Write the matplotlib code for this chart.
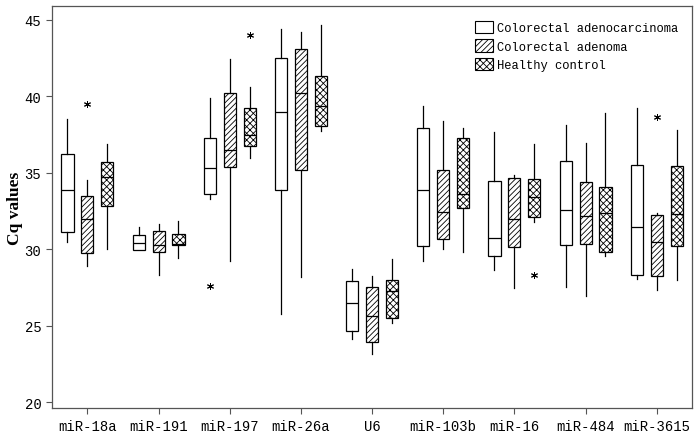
import matplotlib.pyplot as plt
from matplotlib.patches import Patch

# категории и группы
categories = ["miR-18a", "miR-191", "miR-197", "miR-26a", "U6",
              "miR-103b", "miR-16", "miR-484", "miR-3615"]
groups = ["Colorectal adenocarcinoma", "Colorectal adenoma", "Healthy control"]
hatches = ["", "//////", "xxxxx"]

# (нижний ус, Q1, медиана, Q3, верхний ус) для каждой группы
adenocarcinoma = [
    (30.45, 31.1, 33.85, 36.25, 38.5),
    (29.97, 29.97, 30.4, 30.93, 31.47),
    (33.25, 33.6, 35.3, 37.25, 39.9),
    (25.75, 33.85, 39.0, 42.5, 44.4),
    (24.1, 24.65, 26.45, 27.9, 28.7),
    (29.25, 30.2, 33.9, 37.9, 39.35),
    (28.65, 29.55, 30.7, 34.45, 37.65),
    (27.55, 30.3, 32.55, 35.75, 38.1),
    (28.05, 28.3, 31.45, 35.5, 39.25),
]
adenoma = [
    (28.9, 29.75, 32.0, 33.5, 34.5),
    (28.3, 29.8, 30.3, 31.2, 31.65),
    (29.25, 35.4, 36.5, 40.2, 42.45),
    (28.15, 35.15, 40.2, 43.1, 44.2),
    (23.15, 23.95, 25.6, 27.5, 28.25),
    (30.0, 30.65, 32.45, 35.15, 38.35),
    (27.45, 30.15, 31.95, 34.65, 34.85),
    (26.95, 30.35, 32.15, 34.4, 36.95),
    (27.35, 28.25, 30.45, 32.2, 32.35),
]
healthy = [
    (30.0, 32.8, 34.7, 35.7, 36.85),
    (29.4, 30.25, 30.35, 31.0, 31.85),
    (35.95, 36.75, 37.45, 39.25, 40.6),
    (37.75, 38.05, 39.35, 41.3, 44.65),
    (25.2, 25.5, 27.25, 28.0, 29.35),
    (29.8, 32.7, 33.6, 37.3, 37.9),
    (31.8, 32.1, 33.4, 34.6, 36.9),
    (29.55, 29.8, 32.35, 34.05, 38.9),
    (28.0, 30.2, 32.3, 35.45, 37.8),
]
# выбросы: (группа, категория, значение)
outliers = [
    (1, 0, 39.5),
    (0, 2, 27.6),
    (2, 2, 44.0),
    (2, 6, 28.3),
    (1, 8, 38.65),
]

plt.rcParams["hatch.linewidth"] = 0.6
mono = "Liberation Mono"

fig = plt.figure(figsize=(7, 4.39), dpi=100)
ax = fig.add_axes([0.074, 0.068, 0.915, 0.916])

offsets = [-0.28, 0.0, 0.28]
for g, data in enumerate([adenocarcinoma, adenoma, healthy]):
    stats = []
    for i, (lo, q1, med, q3, hi) in enumerate(data):
        fl = [v for (gg, c, v) in outliers if gg == g and c == i]
        stats.append({"whislo": lo, "q1": q1, "med": med, "q3": q3,
                      "whishi": hi, "fliers": fl})
    positions = [i + 1 + offsets[g] for i in range(len(categories))]
    bp = ax.bxp(stats, positions=positions, widths=0.17, patch_artist=True,
                showcaps=False,
                boxprops=dict(facecolor="white", edgecolor="black", linewidth=0.9),
                whiskerprops=dict(color="black", linewidth=0.9),
                medianprops=dict(color="black", linewidth=0.9),
                flierprops=dict(marker=(6, 2, 0), markersize=5,
                                markeredgecolor="black", markeredgewidth=0.7))
    for box in bp["boxes"]:
        box.set_hatch(hatches[g])

ax.set_xlim(0.5, len(categories) + 0.5)
ax.set_ylim(19.6, 45.9)
ax.set_xticks(range(1, len(categories) + 1))
ax.set_xticklabels(categories, fontfamily=mono, fontsize=10)
ax.set_yticks([20, 25, 30, 35, 40, 45])
ax.set_yticklabels(["20", "25", "30", "35", "40", "45"], fontfamily=mono, fontsize=10)
ax.tick_params(direction="out", length=4, width=0.8, color="#555555")
for s in ax.spines.values():
    s.set_color("#555555")
    s.set_linewidth(0.9)

ax.set_ylabel("Cq values", fontfamily="Liberation Serif", fontweight="bold",
              fontsize=12.5, labelpad=1)

handles = [Patch(facecolor="white", edgecolor="black", hatch=h, linewidth=0.8)
           for h in hatches]
ax.legend(handles, groups, loc="upper right", frameon=False,
          prop={"family": mono, "size": 8.7}, handlelength=1.5, handleheight=1.2,
          handletextpad=0.3, labelspacing=0.45, borderaxespad=0.8,
          borderpad=0.4)

fig.savefig("out.png", dpi=100)
